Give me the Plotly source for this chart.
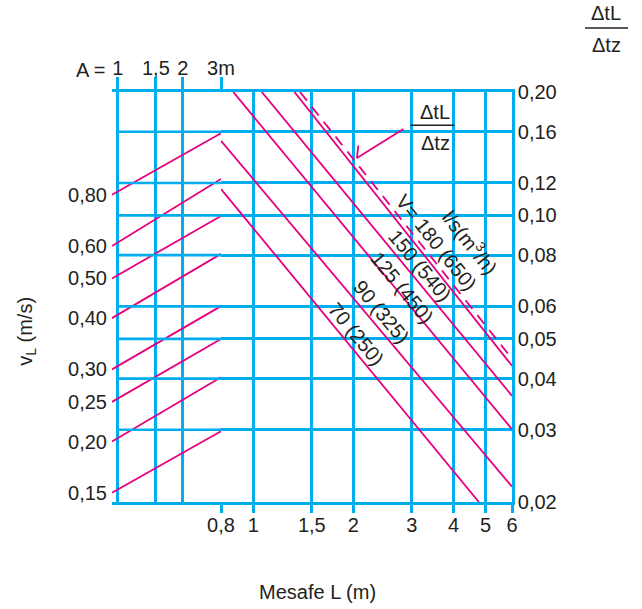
import numpy as np
import plotly.graph_objects as go

# ---- axis ticks ----
L_ticks = [0.8, 1, 1.5, 2, 3, 4, 5, 6]
L_labels = ["0,8", "1", "1,5", "2", "3", "4", "5", "6"]
A_ticks = [1, 1.5, 2, 3]
A_labels = ["1", "1,5", "2", "3m"]
ratio_ticks = [0.02, 0.03, 0.04, 0.05, 0.06, 0.08, 0.10, 0.12, 0.16, 0.20]
ratio_labels = ["0,02", "0,03", "0,04", "0,05", "0,06", "0,08", "0,10", "0,12", "0,16", "0,20"]
vl_ticks = [0.15, 0.20, 0.25, 0.30, 0.40, 0.50, 0.60, 0.80]
vl_labels = ["0,15", "0,20", "0,25", "0,30", "0,40", "0,50", "0,60", "0,80"]

# ---- A section: v_L lines from A = 1 to A = 3 ----
A_line = [0.94, 3.0]
vl_start = [0.80, 0.60, 0.50, 0.40, 0.30, 0.25, 0.20, 0.15]
vl_end = [1.13, 0.874, 0.710, 0.574, 0.428, 0.356, 0.287, 0.212]

# ---- distance section: flow-rate lines V l/s (m3/h) ----
flow_labels = ["70 (250)", "90 (325)", "125 (450)", "150 (540)",
               "l/s(m<sup>3</sup>/h)<br>V= 180 (650)"]
L_start = [0.80, 0.80, 0.871, 1.061, 1.330]
L_end = [4.77, 6.0, 6.0, 6.0, 6.0]
r_start = [0.116, 0.152, 0.20, 0.20, 0.20]
r_end = [0.020, 0.0218, 0.0301, 0.0363, 0.0430]
label_L = [2.04, 2.43, 2.81, 3.18, 3.86]
label_r = [0.0514, 0.0581, 0.0665, 0.0753, 0.0905]
label_angle = [50.5, 50.5, 50.5, 50.5, 51.5]

# dashed ΔtL/Δtz limit line
dash_L = [1.383, 6.0]
dash_r = [0.20, 0.0447]

# pointer from the in-plot ΔtL/Δtz label to the dashed line
pointer_L = [2.83, 2.05, 2.07]
pointer_r = [0.1625, 0.138, 0.148]
frac_L = [2.97, 4.03]
frac_r = 0.166
frac_text_L = 3.53
frac_text_r = [0.179, 0.150]

# v_L scale relative to ΔtL/Δtz scale (shared log height)
VL_PER_RATIO = 1 / 0.1404

CYAN = "#00AEEF"
MAGENTA = "#E6007E"
INK = "#231F20"
FONT = "Liberation Sans"
FS = 20
GW = 2.6
LW = 1.8

fig = go.Figure()

# horizontal grid of the A section (top and bottom come from the axis lines)
gx, gy = [], []
for r in ratio_ticks[1:-1]:
    gx += [1, 3, None]
    gy += [r, r, None]
fig.add_trace(go.Scatter(x=gx, y=gy, xaxis="x2", yaxis="y3", mode="lines",
                         line=dict(color=CYAN, width=GW), hoverinfo="skip",
                         showlegend=False))

for v0, v1 in zip(vl_start, vl_end):
    fig.add_trace(go.Scatter(x=A_line, y=[v0, v1], xaxis="x2", yaxis="y2",
                             mode="lines", line=dict(color=MAGENTA, width=LW),
                             showlegend=False))

for l0, l1, r0, r1 in zip(L_start, L_end, r_start, r_end):
    fig.add_trace(go.Scatter(x=[l0, l1], y=[r0, r1], xaxis="x", yaxis="y",
                             mode="lines", line=dict(color=MAGENTA, width=LW),
                             showlegend=False))

fig.add_trace(go.Scatter(x=dash_L, y=dash_r, xaxis="x", yaxis="y", mode="lines",
                         line=dict(color=MAGENTA, width=LW, dash="11px,8px"),
                         showlegend=False))
fig.add_trace(go.Scatter(x=pointer_L, y=pointer_r, xaxis="x", yaxis="y",
                         mode="lines", line=dict(color=MAGENTA, width=LW),
                         showlegend=False))
fig.add_trace(go.Scatter(x=frac_L, y=[frac_r, frac_r], xaxis="x", yaxis="y",
                         mode="lines", line=dict(color=INK, width=1.6),
                         showlegend=False))


def note(x, y, text, xref="paper", yref="paper", angle=0, xanchor="center", align="center"):
    return dict(x=x, y=y, xref=xref, yref=yref, text=text, textangle=angle,
                showarrow=False, xanchor=xanchor, yanchor="middle", align=align,
                font=dict(family=FONT, size=FS, color=INK))


annotations = []
for txt, lx, ly, ang in zip(flow_labels, label_L, label_r, label_angle):
    annotations.append(note(np.log10(lx), np.log10(ly), txt, "x", "y", ang, align="right"))
for txt, ly in zip(["ΔtL", "Δtz"], frac_text_r):
    annotations.append(note(np.log10(frac_text_L), np.log10(ly), txt, "x", "y"))

annotations += [
    note(1.235, 1.193, "ΔtL"),
    note(1.237, 1.114, "Δtz"),
    note(-0.0125, 1.0537, "A =", xanchor="right"),
    note(-0.2125, 0.415, "v<sub>L</sub> (m/s)", angle=-90),
    note(0.5125, -0.2195, "Mesafe L (m)"),
]

shapes = [dict(type="line", xref="paper", yref="paper", x0=1.1825, x1=1.29,
               y0=1.156, y1=1.156, line=dict(color=INK, width=1.6))]

split = 109 / 400
tickfont = dict(family=FONT, size=FS, color=INK)

fig.update_layout(
    width=642, height=609,
    margin=dict(l=112, r=130, t=92, b=107),
    paper_bgcolor="white", plot_bgcolor="rgba(0,0,0,0)",
    showlegend=False,
    annotations=annotations, shapes=shapes,
    xaxis=dict(type="log", domain=[split, 1], anchor="y",
               range=[np.log10(0.8), np.log10(6)],
               tickmode="array", tickvals=L_ticks, ticktext=L_labels,
               showgrid=True, gridcolor=CYAN, gridwidth=GW,
               ticks="outside", ticklen=8, tickcolor=CYAN, tickwidth=GW,
               ticklabelstandoff=-5,
               showline=True, linecolor=CYAN, linewidth=GW, mirror=True,
               zeroline=False, tickfont=tickfont),
    yaxis=dict(type="log", domain=[0, 1], anchor="x", side="right",
               range=[np.log10(0.02), np.log10(0.2)],
               tickmode="array", tickvals=ratio_ticks, ticktext=ratio_labels,
               showgrid=True, gridcolor=CYAN, gridwidth=GW,
               showline=True, linecolor=CYAN, linewidth=GW,
               ticks="", ticklabelstandoff=-1, zeroline=False, tickfont=tickfont),
    xaxis2=dict(type="log", domain=[0, split], anchor="y2", side="top",
                range=[np.log10(A_line[0]), np.log10(3)],
                tickmode="array", tickvals=A_ticks, ticktext=A_labels,
                showgrid=True, gridcolor=CYAN, gridwidth=GW,
                ticks="outside", ticklen=12, tickcolor=CYAN, tickwidth=GW,
                ticklabelstandoff=-6,
                showline=True, linecolor=CYAN, linewidth=GW, mirror=True,
                zeroline=False, tickfont=tickfont),
    yaxis2=dict(type="log", domain=[0, 1], anchor="x2", side="left",
                range=[np.log10(0.02 * VL_PER_RATIO), np.log10(0.2 * VL_PER_RATIO)],
                tickmode="array", tickvals=vl_ticks, ticktext=vl_labels,
                showgrid=False, showline=False, ticks="", ticklabelstandoff=4,
                zeroline=False, tickfont=tickfont),
    yaxis3=dict(type="log", overlaying="y2", anchor="x2",
                range=[np.log10(0.02), np.log10(0.2)], visible=False),
)

fig.write_html("out.html")
